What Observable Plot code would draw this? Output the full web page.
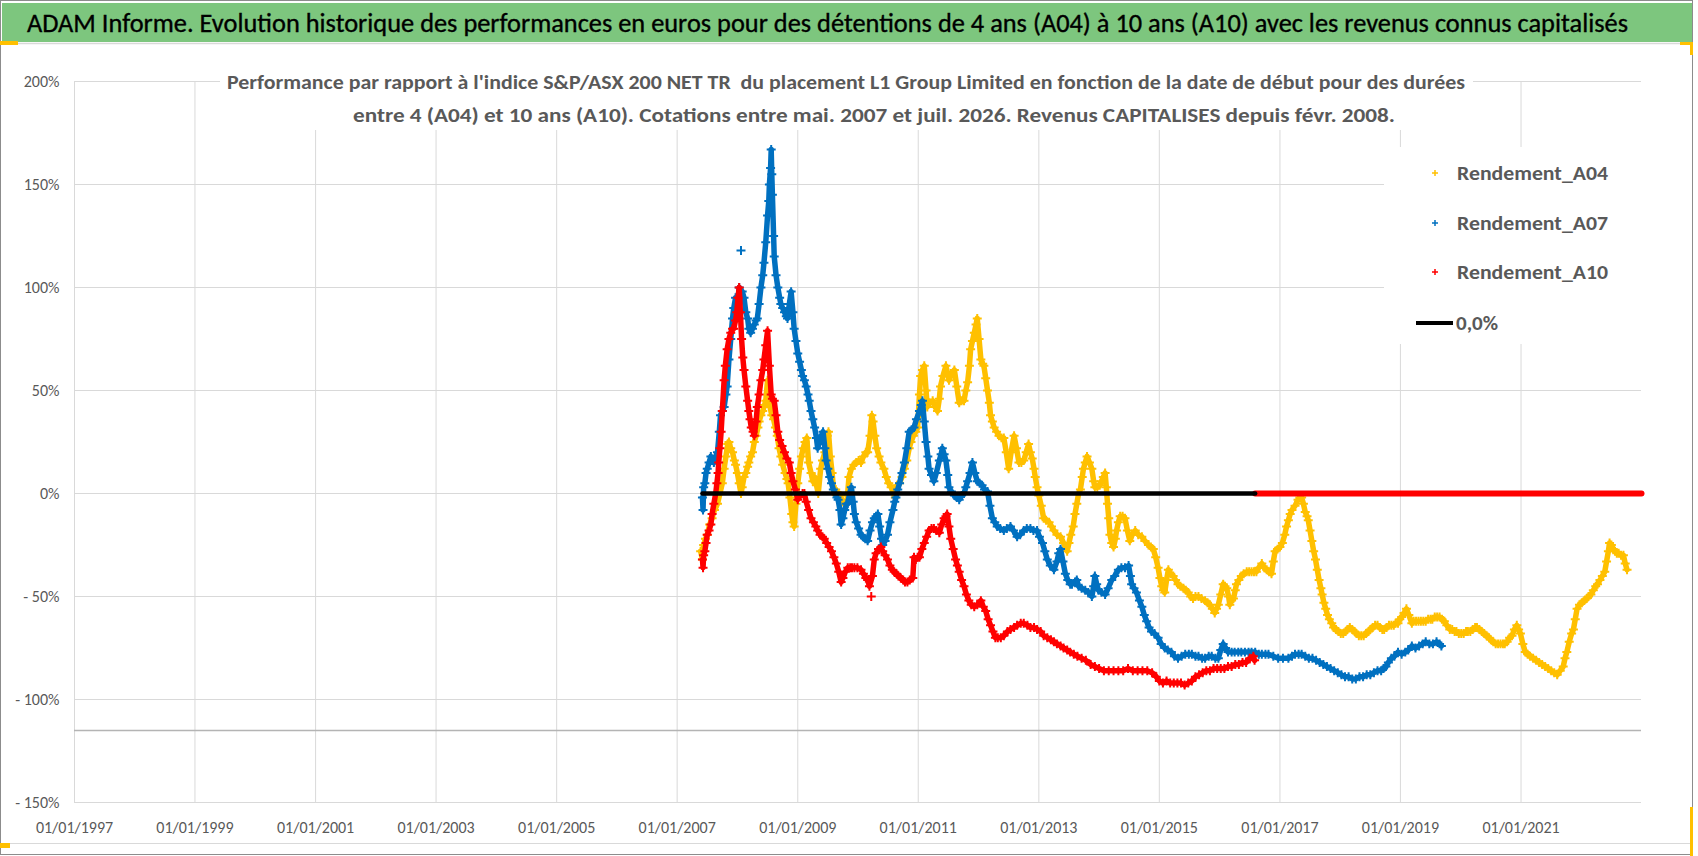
<!DOCTYPE html>
<html><head><meta charset="utf-8">
<script src="https://cdn.jsdelivr.net/npm/d3@7"></script>
<script src="https://cdn.jsdelivr.net/npm/@observablehq/plot@0.6"></script>
<style>
body{margin:0;background:#fff;}
#wrap{position:relative;width:1698px;height:856px;overflow:hidden;background:#fff;}
#wrap svg{display:block;}
.ov{position:absolute;pointer-events:none;}
</style></head>
<body><div id="wrap"></div>
<script>
// ---------- texts ----------
const title = "ADAM Informe. Evolution historique des performances en euros pour des détentions de 4 ans (A04) à 10 ans (A10) avec les revenus connus capitalisés";
const subtitle1 = "Performance par rapport à l'indice S&P/ASX 200 NET TR  du placement L1 Group Limited en fonction de la date de début pour des durées";
const subtitle2 = "entre 4 (A04) et 10 ans (A10). Cotations entre mai. 2007 et juil. 2026. Revenus CAPITALISES depuis févr. 2008.";
const seriesNames = ["Rendement_A04", "Rendement_A07", "Rendement_A10"];
const seriesColors = ["#FFC000", "#0070C0", "#FF0000"];
const zeroLabel = "0,0%";
const xTickYears = [1997, 1999, 2001, 2003, 2005, 2007, 2009, 2011, 2013, 2015, 2017, 2019, 2021];
const xDomainYears = [1997, 2023];
const yTicks = [-150, -100, -50, 0, 50, 100, 150, 200];
const yDomain = [-150, 200];
const axisFloor = -115;
const zeroStart = 2007.42, a10End = 2016.59, zeroEnd = 2023.0;

// ---------- series: [decimal year, performance %] ----------
const a04 = [[2007.39,-28],[2007.42,-32],[2007.44,-25],[2007.47,-22],[2007.50,-20],[2007.54,-15],[2007.58,-12],[2007.62,-8],[2007.67,-5],[2007.71,0],[2007.75,5],[2007.78,12],[2007.81,18],[2007.84,24],[2007.86,25],[2007.89,22],[2007.92,20],[2007.95,16],[2007.97,14],[2008.00,10],[2008.03,5],[2008.06,0],[2008.08,3],[2008.11,8],[2008.14,10],[2008.17,13],[2008.19,15],[2008.22,18],[2008.25,20],[2008.28,25],[2008.31,28],[2008.34,32],[2008.36,35],[2008.39,38],[2008.42,40],[2008.45,43],[2008.47,45],[2008.50,55],[2008.52,48],[2008.54,42],[2008.57,38],[2008.60,36],[2008.63,32],[2008.66,28],[2008.69,22],[2008.72,18],[2008.75,14],[2008.79,10],[2008.82,7],[2008.84,5],[2008.87,-2],[2008.90,-10],[2008.92,-14],[2008.94,-16],[2008.97,-5],[2009.00,5],[2009.03,12],[2009.06,18],[2009.09,22],[2009.12,25],[2009.15,27],[2009.18,15],[2009.22,10],[2009.25,6],[2009.28,8],[2009.31,4],[2009.34,0],[2009.38,12],[2009.41,16],[2009.45,20],[2009.49,28],[2009.51,30],[2009.54,18],[2009.57,10],[2009.60,0],[2009.63,2],[2009.67,0],[2009.71,-1],[2009.74,-4],[2009.78,-5],[2009.82,-3],[2009.85,8],[2009.89,12],[2009.93,14],[2009.97,15],[2010.01,16],[2010.05,15],[2010.09,18],[2010.13,20],[2010.16,20],[2010.20,28],[2010.23,38],[2010.25,35],[2010.28,28],[2010.31,22],[2010.35,18],[2010.38,15],[2010.43,12],[2010.47,8],[2010.51,5],[2010.55,3],[2010.59,0],[2010.62,-2],[2010.65,4],[2010.69,5],[2010.73,8],[2010.77,12],[2010.81,16],[2010.85,22],[2010.88,25],[2010.92,28],[2010.96,30],[2010.99,32],[2011.02,48],[2011.04,57],[2011.07,60],[2011.10,62],[2011.13,50],[2011.15,42],[2011.19,44],[2011.24,45],[2011.28,42],[2011.32,40],[2011.35,46],[2011.37,52],[2011.41,57],[2011.46,62],[2011.49,58],[2011.51,55],[2011.55,58],[2011.60,60],[2011.64,52],[2011.68,44],[2011.72,45],[2011.76,45],[2011.79,50],[2011.82,54],[2011.85,62],[2011.87,70],[2011.90,74],[2011.93,78],[2011.96,82],[2011.98,85],[2012.01,75],[2012.04,65],[2012.07,63],[2012.09,62],[2012.12,56],[2012.15,50],[2012.18,44],[2012.20,38],[2012.23,35],[2012.26,32],[2012.30,30],[2012.34,28],[2012.38,27],[2012.42,27],[2012.46,20],[2012.50,12],[2012.54,20],[2012.59,28],[2012.63,22],[2012.67,15],[2012.71,15],[2012.75,16],[2012.79,20],[2012.83,24],[2012.86,20],[2012.89,17],[2012.92,12],[2012.94,8],[2012.97,3],[2013.00,-1],[2013.04,-6],[2013.08,-12],[2013.12,-13],[2013.17,-14],[2013.21,-16],[2013.25,-18],[2013.30,-20],[2013.36,-21],[2013.41,-24],[2013.47,-28],[2013.50,-24],[2013.53,-20],[2013.57,-16],[2013.60,-10],[2013.63,-5],[2013.66,0],[2013.69,2],[2013.72,8],[2013.74,12],[2013.77,15],[2013.80,18],[2013.84,15],[2013.88,12],[2013.91,6],[2013.93,3],[2013.97,3],[2014.01,4],[2014.04,6],[2014.07,8],[2014.10,10],[2014.12,3],[2014.14,-5],[2014.16,-12],[2014.18,-20],[2014.21,-24],[2014.24,-26],[2014.27,-22],[2014.29,-18],[2014.32,-14],[2014.35,-11],[2014.39,-11],[2014.43,-12],[2014.47,-18],[2014.51,-23],[2014.55,-20],[2014.60,-18],[2014.65,-20],[2014.71,-21],[2014.76,-23],[2014.82,-25],[2014.86,-26],[2014.90,-27],[2014.94,-31],[2014.98,-36],[2015.01,-41],[2015.04,-45],[2015.07,-47],[2015.09,-48],[2015.12,-42],[2015.15,-37],[2015.19,-39],[2015.23,-40],[2015.27,-42],[2015.31,-44],[2015.35,-45],[2015.40,-46],[2015.44,-47],[2015.48,-48],[2015.52,-50],[2015.56,-51],[2015.60,-50],[2015.65,-50],[2015.70,-51],[2015.76,-52],[2015.80,-53],[2015.84,-54],[2015.88,-56],[2015.92,-58],[2015.95,-56],[2015.98,-54],[2016.02,-49],[2016.06,-44],[2016.09,-45],[2016.12,-46],[2016.15,-50],[2016.17,-54],[2016.20,-52],[2016.23,-51],[2016.26,-47],[2016.28,-44],[2016.32,-42],[2016.36,-40],[2016.40,-39],[2016.45,-38],[2016.49,-38],[2016.53,-38],[2016.57,-38],[2016.61,-38],[2016.65,-36],[2016.70,-34],[2016.74,-36],[2016.78,-37],[2016.82,-38],[2016.86,-39],[2016.89,-33],[2016.92,-28],[2016.96,-27],[2017.00,-26],[2017.04,-24],[2017.08,-20],[2017.11,-16],[2017.14,-13],[2017.17,-10],[2017.20,-8],[2017.25,-6],[2017.30,-3],[2017.33,-2],[2017.36,-2],[2017.39,-5],[2017.42,-9],[2017.45,-11],[2017.47,-13],[2017.50,-18],[2017.53,-23],[2017.56,-28],[2017.59,-32],[2017.62,-37],[2017.65,-42],[2017.68,-46],[2017.70,-49],[2017.73,-53],[2017.76,-56],[2017.79,-59],[2017.82,-61],[2017.86,-63],[2017.89,-65],[2017.93,-66],[2017.97,-67],[2018.01,-68],[2018.05,-68],[2018.09,-67],[2018.12,-66],[2018.16,-65],[2018.20,-66],[2018.24,-67],[2018.27,-68],[2018.31,-69],[2018.35,-69],[2018.39,-69],[2018.43,-68],[2018.47,-67],[2018.50,-66],[2018.54,-65],[2018.58,-64],[2018.62,-64],[2018.66,-65],[2018.70,-66],[2018.73,-66],[2018.77,-65],[2018.81,-64],[2018.85,-64],[2018.89,-64],[2018.92,-63],[2018.96,-63],[2018.99,-61],[2019.02,-60],[2019.06,-58],[2019.10,-56],[2019.14,-59],[2019.19,-63],[2019.22,-62],[2019.26,-62],[2019.30,-62],[2019.34,-62],[2019.38,-62],[2019.42,-62],[2019.46,-61],[2019.50,-61],[2019.53,-61],[2019.57,-60],[2019.61,-60],[2019.65,-60],[2019.69,-61],[2019.73,-62],[2019.77,-64],[2019.82,-66],[2019.86,-66],[2019.90,-67],[2019.93,-67],[2019.97,-68],[2020.01,-68],[2020.05,-68],[2020.09,-67],[2020.12,-67],[2020.16,-67],[2020.20,-66],[2020.24,-65],[2020.27,-65],[2020.31,-66],[2020.35,-67],[2020.39,-68],[2020.43,-69],[2020.47,-70],[2020.50,-71],[2020.54,-72],[2020.58,-73],[2020.62,-73],[2020.66,-73],[2020.70,-73],[2020.73,-73],[2020.77,-72],[2020.81,-70],[2020.85,-69],[2020.89,-66],[2020.93,-64],[2020.96,-66],[2020.99,-68],[2021.03,-73],[2021.07,-77],[2021.11,-78],[2021.15,-79],[2021.20,-80],[2021.25,-81],[2021.30,-82],[2021.35,-83],[2021.40,-84],[2021.45,-85],[2021.50,-86],[2021.55,-87],[2021.60,-88],[2021.65,-86],[2021.70,-84],[2021.73,-80],[2021.76,-77],[2021.80,-72],[2021.84,-68],[2021.87,-66],[2021.90,-61],[2021.93,-56],[2021.97,-54],[2022.01,-53],[2022.05,-52],[2022.09,-51],[2022.12,-50],[2022.16,-49],[2022.20,-47],[2022.24,-45],[2022.27,-44],[2022.31,-42],[2022.35,-40],[2022.39,-38],[2022.42,-33],[2022.45,-28],[2022.47,-24],[2022.50,-25],[2022.53,-27],[2022.56,-28],[2022.59,-29],[2022.62,-29],[2022.66,-30],[2022.70,-30],[2022.73,-34],[2022.76,-37]];

const a07 = [[2007.42,-2],[2007.43,-8],[2007.44,3],[2007.46,5],[2007.48,10],[2007.50,12],[2007.53,15],[2007.56,18],[2007.58,16],[2007.61,15],[2007.64,18],[2007.67,20],[2007.70,30],[2007.72,38],[2007.75,40],[2007.78,42],[2007.81,48],[2007.83,52],[2007.86,65],[2007.89,75],[2007.92,85],[2007.94,90],[2007.97,95],[2008.00,92],[2008.03,100],[2008.08,98],[2008.11,95],[2008.14,88],[2008.17,85],[2008.19,80],[2008.22,78],[2008.25,80],[2008.28,82],[2008.31,84],[2008.33,85],[2008.36,92],[2008.39,100],[2008.42,106],[2008.44,112],[2008.47,122],[2008.50,135],[2008.52,142],[2008.53,150],[2008.55,158],[2008.56,167],[2008.57,155],[2008.58,145],[2008.60,125],[2008.61,115],[2008.64,106],[2008.67,100],[2008.70,95],[2008.72,92],[2008.75,90],[2008.78,88],[2008.81,86],[2008.83,85],[2008.86,92],[2008.89,98],[2008.92,88],[2008.94,80],[2008.97,74],[2009.00,68],[2009.03,64],[2009.06,60],[2009.08,57],[2009.11,55],[2009.14,52],[2009.17,48],[2009.19,45],[2009.22,40],[2009.25,36],[2009.28,32],[2009.31,27],[2009.33,22],[2009.36,25],[2009.39,28],[2009.42,30],[2009.45,22],[2009.47,16],[2009.50,12],[2009.53,8],[2009.56,5],[2009.59,2],[2009.62,0],[2009.65,-2],[2009.67,-3],[2009.70,-8],[2009.72,-15],[2009.75,-12],[2009.78,-8],[2009.81,-5],[2009.83,-5],[2009.86,0],[2009.89,3],[2009.92,-4],[2009.94,-10],[2009.97,-14],[2010.01,-17],[2010.05,-20],[2010.08,-21],[2010.12,-22],[2010.16,-23],[2010.20,-18],[2010.24,-14],[2010.27,-12],[2010.30,-11],[2010.33,-10],[2010.36,-16],[2010.39,-22],[2010.41,-25],[2010.45,-23],[2010.49,-20],[2010.53,-14],[2010.58,-8],[2010.61,-4],[2010.63,-2],[2010.66,2],[2010.69,5],[2010.73,10],[2010.77,15],[2010.81,22],[2010.85,30],[2010.89,31],[2010.93,32],[2010.97,36],[2011.02,40],[2011.05,43],[2011.07,45],[2011.10,35],[2011.13,25],[2011.16,18],[2011.18,12],[2011.22,9],[2011.26,6],[2011.30,10],[2011.35,16],[2011.38,19],[2011.40,22],[2011.43,19],[2011.46,16],[2011.49,9],[2011.51,3],[2011.55,1],[2011.60,-1],[2011.64,-2],[2011.68,-3],[2011.72,-1],[2011.76,0],[2011.79,3],[2011.82,6],[2011.86,10],[2011.90,15],[2011.94,10],[2011.98,6],[2012.02,5],[2012.06,4],[2012.10,2],[2012.15,1],[2012.19,-6],[2012.23,-12],[2012.27,-14],[2012.31,-16],[2012.36,-17],[2012.42,-18],[2012.47,-17],[2012.53,-16],[2012.58,-18],[2012.64,-21],[2012.69,-20],[2012.75,-18],[2012.80,-17],[2012.86,-17],[2012.91,-18],[2012.97,-18],[2013.01,-21],[2013.06,-24],[2013.10,-28],[2013.14,-32],[2013.19,-35],[2013.25,-37],[2013.30,-33],[2013.33,-29],[2013.36,-27],[2013.40,-33],[2013.44,-39],[2013.48,-42],[2013.52,-44],[2013.55,-44],[2013.60,-43],[2013.63,-42],[2013.66,-45],[2013.71,-46],[2013.77,-47],[2013.82,-48],[2013.88,-50],[2013.91,-45],[2013.93,-40],[2013.96,-44],[2013.99,-47],[2014.04,-48],[2014.10,-49],[2014.15,-46],[2014.21,-42],[2014.26,-40],[2014.32,-37],[2014.37,-36],[2014.43,-36],[2014.49,-35],[2014.52,-40],[2014.54,-44],[2014.58,-46],[2014.62,-48],[2014.67,-52],[2014.71,-55],[2014.75,-59],[2014.79,-62],[2014.83,-65],[2014.87,-67],[2014.92,-68],[2014.98,-70],[2015.03,-73],[2015.09,-75],[2015.14,-76],[2015.20,-77],[2015.25,-79],[2015.31,-80],[2015.37,-79],[2015.43,-78],[2015.49,-78],[2015.54,-78],[2015.60,-79],[2015.65,-79],[2015.71,-80],[2015.76,-80],[2015.82,-79],[2015.87,-79],[2015.93,-80],[2015.98,-80],[2016.02,-76],[2016.06,-73],[2016.10,-75],[2016.14,-77],[2016.20,-77],[2016.25,-77],[2016.31,-77],[2016.36,-77],[2016.42,-77],[2016.48,-77],[2016.53,-77],[2016.59,-77],[2016.65,-78],[2016.70,-78],[2016.76,-78],[2016.81,-78],[2016.89,-79],[2016.97,-80],[2017.05,-80],[2017.14,-80],[2017.20,-79],[2017.25,-78],[2017.31,-78],[2017.36,-78],[2017.42,-79],[2017.48,-80],[2017.54,-80],[2017.60,-81],[2017.66,-82],[2017.72,-83],[2017.78,-84],[2017.84,-85],[2017.90,-86],[2017.96,-87],[2018.02,-88],[2018.08,-89],[2018.14,-89],[2018.20,-90],[2018.26,-90],[2018.32,-89],[2018.38,-89],[2018.44,-88],[2018.50,-88],[2018.56,-87],[2018.62,-86],[2018.68,-86],[2018.72,-85],[2018.76,-84],[2018.80,-82],[2018.85,-80],[2018.90,-79],[2018.96,-77],[2019.02,-78],[2019.08,-77],[2019.13,-76],[2019.19,-74],[2019.25,-75],[2019.31,-74],[2019.37,-73],[2019.42,-72],[2019.48,-73],[2019.54,-73],[2019.60,-72],[2019.65,-73],[2019.68,-74]];

const a10 = [[2007.42,-32],[2007.43,-36],[2007.44,-30],[2007.46,-28],[2007.48,-24],[2007.50,-20],[2007.53,-18],[2007.56,-15],[2007.58,-10],[2007.61,-5],[2007.64,0],[2007.66,5],[2007.68,10],[2007.69,15],[2007.71,22],[2007.73,30],[2007.75,40],[2007.78,55],[2007.80,62],[2007.83,70],[2007.86,75],[2007.89,78],[2007.92,80],[2007.94,80],[2007.97,84],[2007.99,88],[2008.01,95],[2008.03,100],[2008.05,88],[2008.07,75],[2008.09,66],[2008.11,60],[2008.14,52],[2008.17,45],[2008.19,40],[2008.21,36],[2008.23,32],[2008.26,30],[2008.28,28],[2008.31,35],[2008.33,42],[2008.36,48],[2008.39,55],[2008.42,60],[2008.44,65],[2008.47,72],[2008.50,79],[2008.53,62],[2008.56,48],[2008.58,46],[2008.61,45],[2008.64,38],[2008.67,30],[2008.70,26],[2008.74,23],[2008.78,20],[2008.82,17],[2008.86,15],[2008.89,10],[2008.92,6],[2008.96,2],[2009.00,-3],[2009.04,-1],[2009.08,0],[2009.11,0],[2009.14,-4],[2009.18,-8],[2009.22,-12],[2009.26,-14],[2009.30,-16],[2009.33,-18],[2009.37,-20],[2009.41,-21],[2009.44,-22],[2009.48,-24],[2009.52,-26],[2009.56,-28],[2009.60,-31],[2009.64,-34],[2009.68,-38],[2009.72,-43],[2009.75,-41],[2009.79,-38],[2009.83,-36],[2009.87,-36],[2009.90,-36],[2009.94,-36],[2009.99,-36],[2010.05,-37],[2010.09,-39],[2010.13,-41],[2010.16,-42],[2010.19,-45],[2010.24,-40],[2010.27,-32],[2010.30,-29],[2010.34,-27],[2010.38,-26],[2010.41,-28],[2010.45,-30],[2010.49,-32],[2010.53,-35],[2010.57,-37],[2010.60,-38],[2010.64,-39],[2010.67,-40],[2010.71,-41],[2010.75,-42],[2010.78,-43],[2010.82,-43],[2010.86,-42],[2010.91,-41],[2010.93,-31],[2010.96,-32],[2010.99,-31],[2011.02,-31],[2011.06,-27],[2011.10,-24],[2011.14,-21],[2011.18,-18],[2011.22,-17],[2011.26,-17],[2011.30,-18],[2011.35,-19],[2011.39,-15],[2011.43,-12],[2011.46,-11],[2011.48,-10],[2011.51,-16],[2011.54,-22],[2011.58,-27],[2011.62,-32],[2011.65,-35],[2011.68,-38],[2011.72,-42],[2011.76,-45],[2011.80,-49],[2011.84,-52],[2011.88,-54],[2011.93,-55],[2011.98,-54],[2012.04,-52],[2012.08,-55],[2012.12,-57],[2012.16,-61],[2012.20,-64],[2012.24,-67],[2012.28,-70],[2012.32,-70],[2012.37,-70],[2012.42,-69],[2012.48,-67],[2012.53,-66],[2012.59,-65],[2012.64,-64],[2012.70,-63],[2012.75,-63],[2012.81,-64],[2012.86,-65],[2012.92,-65],[2012.97,-66],[2013.03,-67],[2013.08,-69],[2013.14,-70],[2013.20,-71],[2013.25,-72],[2013.30,-73],[2013.36,-74],[2013.41,-75],[2013.47,-76],[2013.52,-77],[2013.58,-78],[2013.64,-79],[2013.71,-80],[2013.78,-81],[2013.86,-83],[2013.93,-84],[2014.00,-85],[2014.08,-86],[2014.16,-86],[2014.24,-86],[2014.32,-86],[2014.40,-86],[2014.48,-85],[2014.56,-86],[2014.64,-86],[2014.72,-86],[2014.80,-86],[2014.88,-87],[2014.95,-89],[2015.00,-91],[2015.06,-92],[2015.12,-91],[2015.18,-92],[2015.24,-92],[2015.30,-92],[2015.36,-92],[2015.42,-93],[2015.48,-92],[2015.54,-91],[2015.60,-89],[2015.66,-88],[2015.72,-87],[2015.78,-86],[2015.84,-86],[2015.90,-85],[2015.96,-85],[2016.02,-85],[2016.08,-85],[2016.14,-84],[2016.20,-84],[2016.26,-83],[2016.32,-83],[2016.38,-82],[2016.44,-82],[2016.50,-80],[2016.56,-79],[2016.58,-81]];

// isolated points (shown as markers only)
const a07Isolated = [[2008.06, 118]];
const a10Isolated = [[2010.22, -50]];

// ---------- helpers ----------
function toDate(y) {
  const yr = Math.floor(y);
  const s = Date.UTC(yr, 0, 1), e = Date.UTC(yr + 1, 0, 1);
  return new Date(s + (y - yr) * (e - s));
}
const FONT = "Carlito, 'Liberation Sans Narrow', 'DejaVu Sans Condensed', 'Roboto', sans-serif";
const fmtPct = v => v < 0 ? "- " + (-v) + "%" : v + "%";
const toRows = rows => rows.map(([yr, v]) => ({date: toDate(yr), value: v}));
const series = [a04, a07, a10].map(toRows);
const isolated = [[], a07Isolated, a10Isolated].map(toRows);
const zeroBlack = [zeroStart, a10End].map(y => ({date: toDate(y), value: 0}));
const zeroRed = [a10End, zeroEnd].map(y => ({date: toDate(y), value: 0}));
const xTicks = xTickYears.map(toDate);

const wrap = document.getElementById("wrap");

// ---------- title band (above the plot SVG) ----------
const head = d3.select(wrap).append("svg").attr("width", 1698).attr("height", 46);
head.append("rect").attr("x", 2).attr("y", 3).attr("width", 1690).attr("height", 39).attr("fill", "#7DC67E");
head.append("line").attr("x1", 2).attr("x2", 1692).attr("y1", 43.5).attr("y2", 43.5).attr("stroke", "#d9d9d9").attr("stroke-width", 1.5);
head.append("text").attr("x", 27).attr("y", 23).attr("dy", "0.35em").attr("text-anchor", "start")
  .attr("textLength", 1601).attr("lengthAdjust", "spacingAndGlyphs")
  .attr("stroke", "#000").attr("stroke-width", 0.35)
  .style("font-family", FONT).style("font-size", "26px").attr("fill", "#000").text(title);

// ---------- plot ----------
const chart = Plot.plot({
  width: 1698, height: 810,
  marginTop: 35, marginBottom: 54, marginLeft: 74, marginRight: 57,
  style: {fontFamily: FONT, fontSize: "16px", color: "#595959", background: "white", overflow: "visible"},
  x: {type: "utc", domain: xDomainYears.map(toDate), ticks: xTicks, tickFormat: d3.utcFormat("%d/%m/%Y"), tickSize: 0, tickPadding: 19, label: null},
  y: {domain: yDomain, ticks: yTicks, tickFormat: fmtPct, tickSize: 0, tickPadding: 15, label: null},
  marks: [
    Plot.ruleY(yTicks, {stroke: "#d9d9d9", strokeWidth: 1}),
    Plot.ruleX(xTicks, {stroke: "#d9d9d9", strokeWidth: 1}),
    Plot.ruleY([axisFloor], {stroke: "#b4b4b4", strokeWidth: 1.5}),
    ...series.flatMap((rows, i) => [
      Plot.line(rows, {x: "date", y: "value", stroke: seriesColors[i], strokeWidth: 5.5, strokeLinejoin: "round", strokeLinecap: "round"}),
      Plot.dot(rows, {x: "date", y: "value", symbol: "plus", r: 3, stroke: seriesColors[i], strokeWidth: 2}),
      Plot.dot(isolated[i], {x: "date", y: "value", symbol: "plus", r: 3, stroke: seriesColors[i], strokeWidth: 2})
    ]),
    Plot.line(zeroRed, {x: "date", y: "value", stroke: seriesColors[2], strokeWidth: 6}),
    Plot.line(zeroBlack, {x: "date", y: "value", stroke: "#000", strokeWidth: 4.5})
  ]
});
wrap.appendChild(chart);

// ---------- subtitle and legend drawn inside the plot SVG ----------
const svg = d3.select(chart);
svg.append("rect").attr("x", 220).attr("y", 10).attr("width", 1253).attr("height", 74).attr("fill", "white");
[[subtitle1, 227, 36, 1238], [subtitle2, 353, 69, 1042]].forEach(([t, x, y, len]) => {
  svg.append("text").attr("x", x).attr("y", y).attr("dy", "0.35em").attr("text-anchor", "start")
    .attr("textLength", len).attr("lengthAdjust", "spacingAndGlyphs")
    .style("font-family", FONT).style("font-size", "20px").style("font-weight", "bold")
    .attr("fill", "#595959").text(t);
});
svg.append("rect").attr("x", 1384).attr("y", 101).attr("width", 314).attr("height", 197).attr("fill", "white");
const legY = [127, 177, 226, 277];
seriesNames.forEach((n, i) => {
  svg.append("path").attr("d", "M-3,0H3M0,-3V3").attr("transform", `translate(1435,${legY[i]})`)
    .attr("stroke", seriesColors[i]).attr("stroke-width", 1.5).attr("fill", "none");
  svg.append("text").attr("x", 1457).attr("y", legY[i]).attr("dy", "0.35em").attr("text-anchor", "start")
    .attr("textLength", 151).attr("lengthAdjust", "spacingAndGlyphs")
    .style("font-family", FONT).style("font-size", "21px").style("font-weight", "bold")
    .attr("fill", "#595959").text(n);
});
svg.append("line").attr("x1", 1416).attr("x2", 1453).attr("y1", legY[3]).attr("y2", legY[3]).attr("stroke", "#000").attr("stroke-width", 4);
svg.append("text").attr("x", 1456).attr("y", legY[3]).attr("dy", "0.35em").attr("text-anchor", "start")
  .attr("textLength", 42).attr("lengthAdjust", "spacingAndGlyphs")
  .style("font-family", FONT).style("font-size", "21px").style("font-weight", "bold")
  .attr("fill", "#595959").text(zeroLabel);

// ---------- frame decorations ----------
function ov(css) { const d = document.createElement("div"); d.className = "ov"; d.style.cssText = css; wrap.appendChild(d); }
ov("left:0;top:0;width:1691px;height:853px;border:1.5px solid #8c8c8c;");
ov("left:1px;top:843px;width:1691px;height:0;border-top:1.5px solid #d9d9d9;");
ov("left:0;top:41px;width:18px;height:4px;background:#FFC000;");
ov("left:1680px;top:42px;width:13px;height:3px;background:#FFC000;");
ov("left:1690px;top:42px;width:3px;height:13px;background:#FFC000;");
ov("left:0;top:843px;width:10px;height:5px;background:#FFC000;");
ov("left:1690px;top:807px;width:3px;height:49px;background:#FFC000;");
</script>
</body></html>
